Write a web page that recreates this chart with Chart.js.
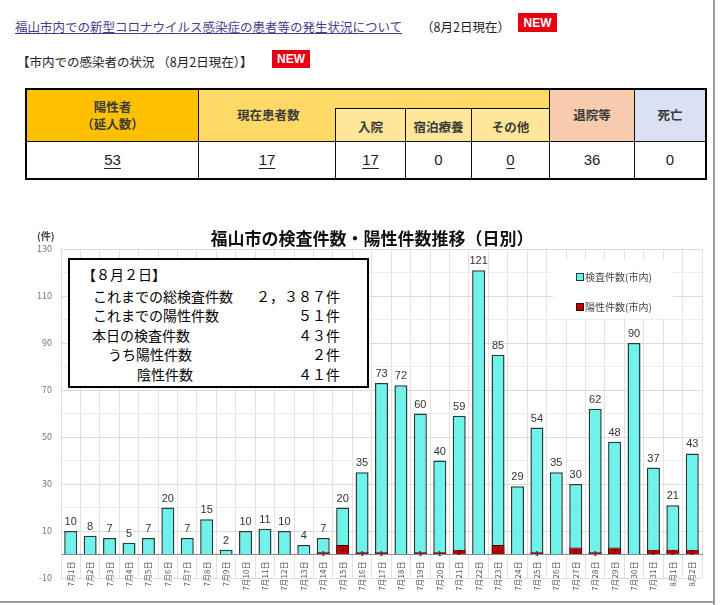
<!DOCTYPE html>
<html lang="ja">
<head>
<meta charset="utf-8">
<title>福山市の検査件数・陽性件数推移</title>
<script src="https://cdn.jsdelivr.net/npm/chart.js@4.4.1/dist/chart.umd.min.js"></script>
<style>
  html,body{margin:0;padding:0;background:#fff;}
  body{width:720px;height:605px;position:relative;overflow:hidden;
       font-family:"Noto Sans CJK JP","Noto Sans",sans-serif;color:#222;}
  .abs{position:absolute;white-space:nowrap;line-height:1;}
  .new{position:absolute;background:#e60012;color:#fff;font:bold 12px "Liberation Sans",Arial,sans-serif;
       display:flex;align-items:center;justify-content:center;}
  .cell{position:absolute;box-sizing:border-box;border:1px solid #111;display:flex;align-items:center;
        justify-content:center;text-align:center;font-size:12.5px;font-weight:bold;color:#3a3a3a;line-height:1.35;}
  .val{font-weight:normal;font-size:15px;color:#222;background:#fff;font-family:"Liberation Sans Narrow","Liberation Sans",sans-serif;}
  .val u{text-underline-offset:3px;}
  #box{position:absolute;left:68px;top:258px;width:301px;height:130px;box-sizing:border-box;
       border:2px solid #000;background:#fff;font-size:14px;color:#000;}
  #box .l{position:absolute;white-space:nowrap;line-height:1;}
  #box .r{position:absolute;right:27px;white-space:nowrap;line-height:1;}
</style>
</head>
<body>
<!-- page header -->
<div class="abs" style="left:15px;top:21px;font-size:12.5px;color:#4a3c8c;text-decoration:underline;">福山市内での新型コロナウイルス感染症の患者等の発生状況について</div>
<div class="abs" style="left:421px;top:21px;font-size:12.5px;">（8月2日現在）</div>
<div class="new" style="left:518px;top:13px;width:39px;height:19px;">NEW</div>
<div class="abs" style="left:17px;top:56px;font-size:12.5px;">【市内での感染者の状況 （8月2日現在）】</div>
<div class="new" style="left:272px;top:50px;width:38px;height:18px;">NEW</div>

<!-- summary table -->
<div class="cell" style="left:26px;top:89px;width:173px;height:53px;background:#ffc000;">陽性者<br>（延人数）</div>
<div class="cell" style="left:198px;top:89px;width:352px;height:53px;background:#ffd966;justify-content:flex-start;padding-left:38px;">現在患者数</div>
<div class="cell" style="left:335px;top:108px;width:71px;height:34px;background:#ffe699;padding-top:4px;">入院</div>
<div class="cell" style="left:405px;top:108px;width:67px;height:34px;background:#ffe699;padding-top:4px;">宿泊療養</div>
<div class="cell" style="left:471px;top:108px;width:79px;height:34px;background:#ffe699;padding-top:4px;">その他</div>
<div class="cell" style="left:549px;top:89px;width:86px;height:53px;background:#f8cbad;">退院等</div>
<div class="cell" style="left:634px;top:89px;width:72px;height:53px;background:#d9e1f2;">死亡</div>
<div class="cell val" style="left:26px;top:141px;width:173px;height:38px;"><u>53</u></div>
<div class="cell val" style="left:198px;top:141px;width:138px;height:38px;"><u>17</u></div>
<div class="cell val" style="left:335px;top:141px;width:71px;height:38px;"><u>17</u></div>
<div class="cell val" style="left:405px;top:141px;width:67px;height:38px;">0</div>
<div class="cell val" style="left:471px;top:141px;width:79px;height:38px;"><u>0</u></div>
<div class="cell val" style="left:549px;top:141px;width:86px;height:38px;">36</div>
<div class="cell val" style="left:634px;top:141px;width:72px;height:38px;">0</div>
<div style="position:absolute;left:25px;top:88px;width:682px;height:92px;box-sizing:border-box;border:2.5px solid #000;"></div>

<!-- chart -->
<div style="position:absolute;left:0;top:200px;width:713px;height:400px;">
  <canvas id="chart" width="713" height="400"></canvas>
</div>
<div class="abs" style="left:0;width:744px;text-align:center;top:229px;font-size:17px;font-weight:bold;color:#111;">福山市の検査件数・陽性件数推移（日別）</div>
<div class="abs" style="left:37px;top:231px;font-size:10px;font-weight:bold;color:#444;">(件)</div>

<div id="box">
  <div class="l" style="left:12px;top:7px;">【８月２日】</div>
  <div class="l" style="left:23px;top:29px;">これまでの総検査件数</div><div class="r" style="top:29px;">２，３８７件</div>
  <div class="l" style="left:23px;top:48px;">これまでの陽性件数</div><div class="r" style="top:48px;">５１件</div>
  <div class="l" style="left:22px;top:68px;">本日の検査件数</div><div class="r" style="top:68px;">４３件</div>
  <div class="l" style="left:38px;top:87px;">うち陽性件数</div><div class="r" style="top:87px;">２件</div>
  <div class="l" style="left:67px;top:107px;">陰性件数</div><div class="r" style="top:107px;">４１件</div>
</div>

<!-- page frame -->
<div style="position:absolute;left:713px;top:0;width:2px;height:605px;background:#9a9a9a;"></div>
<div style="position:absolute;left:0;top:601px;width:715px;height:2px;background:#9a9a9a;"></div>

<script>
// daily data, 7/1 - 8/2
const days = ["7月1日","7月2日","7月3日","7月4日","7月5日","7月6日","7月7日","7月8日","7月9日","7月10日",
  "7月11日","7月12日","7月13日","7月14日","7月15日","7月16日","7月17日","7月18日","7月19日","7月20日",
  "7月21日","7月22日","7月23日","7月24日","7月25日","7月26日","7月27日","7月28日","7月29日","7月30日",
  "7月31日","8月1日","8月2日"];
const tests     = [10,8,7,5,7,20,7,15,2,10,11,10,4,7,20,35,73,72,60,40,59,121,85,29,54,35,30,62,48,90,37,21,43];
const positives = [0,0,0,0,0,0,0,0,0,0,0,0,0,1,4,1,1,0,1,1,2,0,4,0,1,0,3,1,3,0,2,2,2];
const seriesNames = ["検査件数(市内)", "陽性件数(市内)"];

const CYAN = "#6ef2ea", RED = "#c00000";

Chart.defaults.font.family = '"Noto Sans CJK JP","Liberation Sans",sans-serif';

// legend sits inside the plot on a white patch, like the excel original
const insideLegend = {
  id: "insideLegend",
  beforeDatasetsDraw(chart){
    const {ctx, chartArea:a} = chart;
    const x0 = a.right - 149, y0 = a.top + 11;
    ctx.save();
    ctx.fillStyle = "#fff";
    ctx.fillRect(x0, y0, 120, 58);
    ctx.font = '10px "Noto Sans CJK JP"';
    ctx.textBaseline = "middle";
    chart.data.datasets.forEach((ds, i)=>{
      const y = y0 + 17 + i*30;
      ctx.fillStyle = ds.backgroundColor;
      ctx.strokeStyle = ds.borderColor;
      ctx.lineWidth = 1;
      ctx.fillRect(x0 + 23.5, y - 3.5, 7, 7);
      ctx.strokeRect(x0 + 23.5, y - 3.5, 7, 7);
      ctx.fillStyle = "#444";
      ctx.fillText(ds.label, x0 + 32, y);
    });
    ctx.restore();
  }
};

// value labels: above the test bars, tiny inside the positive bars
const barLabels = {
  id: "barLabels",
  afterDatasetsDraw(chart){
    const ctx = chart.ctx;
    ctx.save();
    ctx.textAlign = "center";
    const mTest = chart.getDatasetMeta(0);
    ctx.fillStyle = "#333";
    ctx.font = '11px "Liberation Sans",sans-serif';
    ctx.textBaseline = "alphabetic";
    mTest.data.forEach((bar, i)=>{ ctx.fillText(tests[i], bar.x, bar.y - 6); });
    const mPos = chart.getDatasetMeta(1);
    ctx.fillStyle = "#3a0000";
    ctx.font = '7px "Liberation Sans",sans-serif';
    ctx.textBaseline = "middle";
    mPos.data.forEach((bar, i)=>{
      if(positives[i] > 0) ctx.fillText(positives[i], bar.x, (bar.y + bar.base)/2 + 1);
    });
    ctx.restore();
  }
};

new Chart(document.getElementById("chart"), {
  type: "bar",
  data: {
    labels: days,
    datasets: [
      { label: seriesNames[0], data: tests, backgroundColor: CYAN, borderColor: "#1f3f3f",
        borderWidth: 1.5, order: 1, grouped: false, barPercentage: 0.67, categoryPercentage: 1 },
      { label: seriesNames[1], data: positives, backgroundColor: RED, borderColor: "#4a0000",
        borderWidth: 1, order: 0, grouped: false, barPercentage: 0.67, categoryPercentage: 1 }
    ]
  },
  options: {
    responsive: false,
    animation: false,
    devicePixelRatio: 1,
    layout: { padding: { top: 49, bottom: 22, left: 0, right: 11 } },
    plugins: { legend: { display: false }, tooltip: { enabled: false } },
    scales: {
      x: {
        position: { y: 0 },
        grid: { color: "#e2e2e2", drawTicks: false },
        border: { color: "#8a8a8a", width: 1 },
        ticks: { color: "#555", font: { size: 8 }, minRotation: 90, maxRotation: 90,
                 autoSkip: false, padding: 7 }
      },
      y: {
        min: -10, max: 130,
        afterFit: s => { s.width = 61; },
        grid: { drawTicks: false,
                color: c => (c.tick && (c.tick.value + 10) % 20 === 0) ? "#dcdcdc" : "#ededed" },
        border: { color: "#dcdcdc" },
        ticks: { stepSize: 10, color: "#777", font: { size: 9 }, padding: 9,
                 callback: v => ((v + 10) % 20 === 0 ? v : "") }
      }
    }
  },
  plugins: [insideLegend, barLabels]
});
</script>
</body>
</html>
